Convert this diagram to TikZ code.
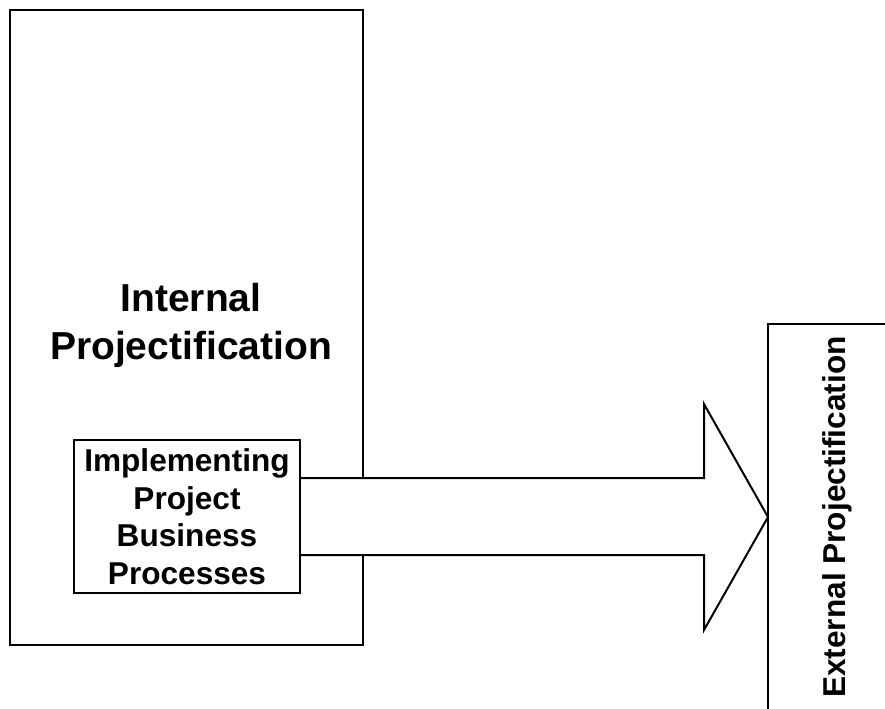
\documentclass[tikz,border=0pt]{standalone}
\usepackage{fontspec}
\setmainfont{Liberation Sans}
\usepackage{tikz}
\usetikzlibrary{calc}
\tikzset{
	frame/.style={draw=black, line width=1.5pt},
	big label/.style={font=\bfseries\fontsize{29.25}{36}\selectfont, align=center},
	small label/.style={font=\bfseries\fontsize{23.7}{28.1}\selectfont, align=center},
	process box/.style={frame, fill=white, small label, inner sep=0pt,
			minimum width=169.5pt, minimum height=114.75pt}
}

\begin{document}
\begin{tikzpicture}[x=0.75pt,y=-0.75pt]
	\useasboundingbox (0,0) rectangle (885,708);
	\clip (0,0) rectangle (885,708);
	% internal side
	\draw[frame] (10,10) rectangle (363,645);
	\node[big label] (internal) at (191,325) {Internal\\Projectification};
	\node[process box] (ipb) at (187,516.5)
	{Implementing\\Project\\Business\\Processes};
	% external side
	\draw[frame] (768,324) rectangle (960,800);
	\node[small label, rotate=90] (external) at (837,517) {External Projectification};
	% the big arrow
	\coordinate (tip) at (768,517);
	\draw[frame, fill=white, line join=miter]
	($(ipb.east)+(0,-38.5)$) -- (704,478) -- (704,404) -- (tip)
	-- (704,630) -- (704,555) -- ($(ipb.east)+(0,38.5)$);
\end{tikzpicture}
\end{document}
